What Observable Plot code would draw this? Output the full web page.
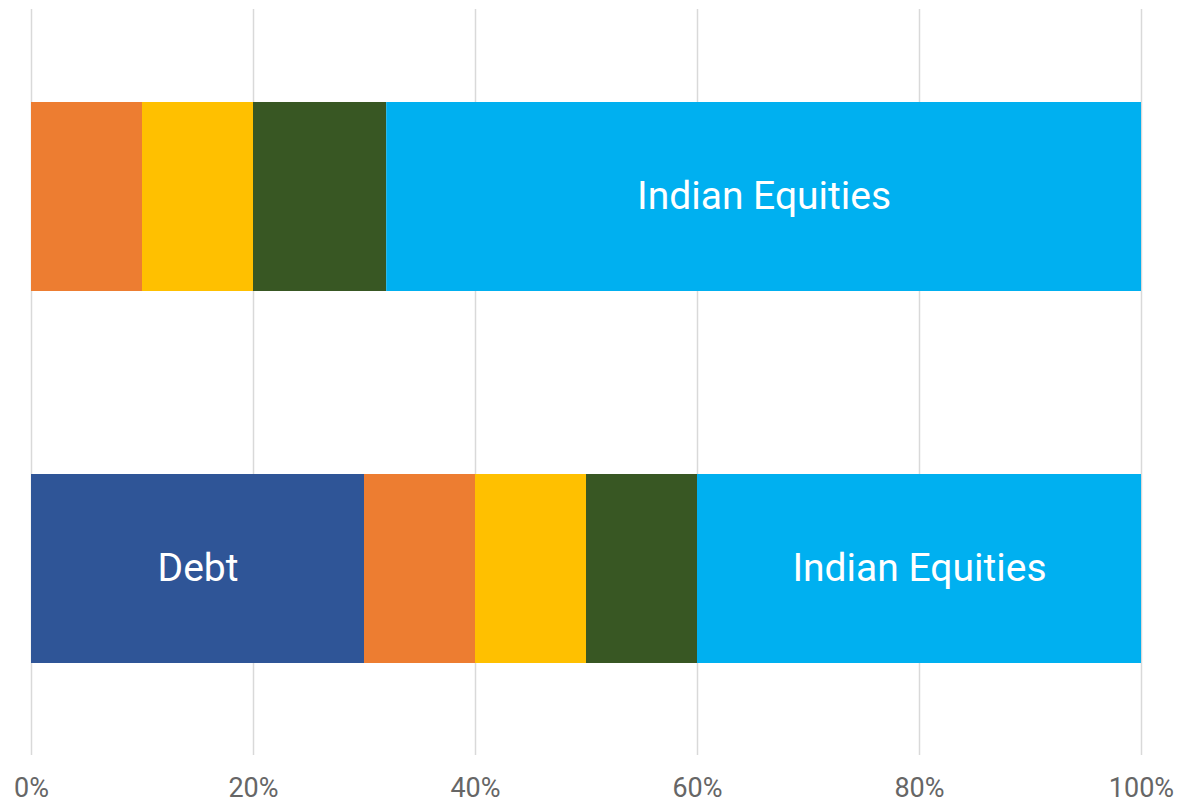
<!DOCTYPE html>
<html>
<head>
<meta charset="utf-8">
<script src="https://cdn.jsdelivr.net/npm/d3@7"></script>
<script src="https://cdn.jsdelivr.net/npm/@observablehq/plot@0.6"></script>
<style>
  html, body { margin: 0; padding: 0; background: #fff; }
  #chart { width: 1198px; height: 806px; }
</style>
</head>
<body>
<div id="chart"></div>
<script>
// Portfolios (top to bottom)
const portfolios = ["Portfolio A", "Portfolio B"];
// Asset classes in stacking order (left to right)
const assets = ["Debt", "Gold", "International Equities", "Real Estate", "Indian Equities"];
const assetColors = ["#2F5597", "#ED7D31", "#FFC000", "#385723", "#00B0F0"];
// Shares (%) per asset class, one array per portfolio
const portfolioA = [0, 10, 10, 12, 68];
const portfolioB = [30, 10, 10, 10, 40];
// Assets whose segments carry a label
const labelledAssets = ["Debt", "Indian Equities"];
const xTicks = [0, 20, 40, 60, 80, 100];

const values = [portfolioA, portfolioB];
const rows = [];
portfolios.forEach((p, i) => {
  assets.forEach((a, j) => {
    rows.push({portfolio: p, asset: a, value: values[i][j]});
  });
});

const stackOpts = {y: "portfolio", x: "value", z: "asset", order: assets};

const chart = Plot.plot({
  width: 1198,
  height: 806,
  marginLeft: 31,
  marginRight: 57,
  marginTop: 9,
  marginBottom: 51,
  style: {fontFamily: "Roboto, 'Open Sans', sans-serif", background: "#fff"},
  x: {domain: [0, 100], label: null},
  y: {domain: portfolios, paddingInner: 0.493, paddingOuter: 0.2466, axis: null, label: null},
  color: {domain: assets, range: assetColors},
  marks: [
    Plot.ruleX(xTicks, {stroke: "#d9d9d9", strokeWidth: 1.5}),
    Plot.barX(rows, Plot.stackX({...stackOpts, fill: "asset"})),
    Plot.text(rows, Plot.stackX({...stackOpts,
      text: d => (labelledAssets.includes(d.asset) && d.value > 0) ? d.asset : "",
      fill: "white", fontSize: 39})),
    Plot.axisX({ticks: xTicks, tickFormat: d => d + "%", tickSize: 0, tickPadding: 22, fontSize: 27, color: "#666666", label: null})
  ]
});
document.getElementById("chart").appendChild(chart);
</script>
</body>
</html>
